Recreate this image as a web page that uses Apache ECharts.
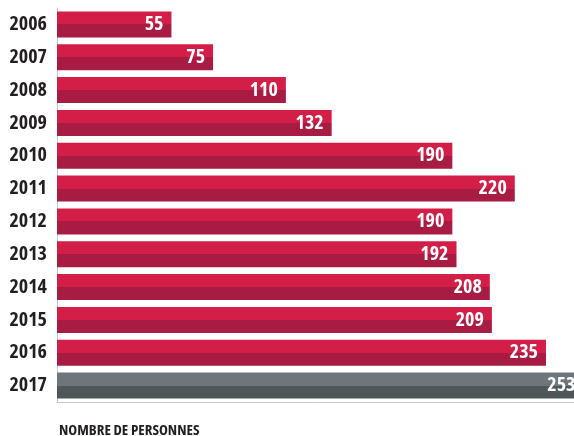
<!DOCTYPE html>
<html>
<head>
<meta charset="utf-8">
<script src="https://cdn.jsdelivr.net/npm/echarts@6/dist/echarts.min.js"></script>
<style>
html,body{margin:0;padding:0;background:#fff;}
#c{width:574px;height:436px;}
</style>
</head>
<body>
<div id="c"></div>
<script>
var years = ['2006','2007','2008','2009','2010','2011','2012','2013','2014','2015','2016','2017'];
var values = [55, 75, 110, 132, 190, 220, 190, 192, 208, 209, 235, 253];
var axisTitle = 'NOMBRE DE PERSONNES';

var FONT = '"Open Sans", "Noto Sans", sans-serif';
var WEIGHT = 'bold condensed';
function twoTone(light, dark) {
  return new echarts.graphic.LinearGradient(0, 0, 0, 1, [
    {offset: 0, color: light}, {offset: 0.5, color: light},
    {offset: 0.5, color: dark}, {offset: 1, color: dark}
  ]);
}
var red = twoTone('#d31e47', '#a81b43');
var gray = twoTone('#6e767b', '#4f575a');

var chart = echarts.init(document.getElementById('c'), null, {renderer: 'canvas'});
chart.setOption({
  animation: false,
  grid: {left: 57, top: 8, width: 541, height: 394, containLabel: false, outerBoundsMode: 'none'},
  xAxis: {
    type: 'value', min: 0, max: 260,
    axisLine: {show: true, lineStyle: {color: '#c8c8c8', width: 1}},
    axisTick: {show: false}, axisLabel: {show: false}, splitLine: {show: false}
  },
  yAxis: {
    type: 'category', data: years, inverse: true,
    axisLine: {show: true, lineStyle: {color: '#c8c8c8', width: 1}},
    axisTick: {show: false},
    axisLabel: {color: '#231f20', fontFamily: FONT, fontWeight: WEIGHT, fontSize: 20, margin: 10}
  },
  title: {
    text: axisTitle, left: 54, top: 418,
    textStyle: {color: '#231f20', fontFamily: FONT, fontWeight: WEIGHT, fontSize: 15}
  },
  series: [{
    type: 'bar',
    barWidth: 26,
    data: values.map(function (v, i) {
      return {value: v, itemStyle: {color: i === values.length - 1 ? gray : red}};
    }),
    label: {
      show: true, position: 'insideRight', distance: 8,
      color: '#fff', fontFamily: FONT, fontWeight: WEIGHT, fontSize: 20
    }
  }]
});
</script>
</body>
</html>
